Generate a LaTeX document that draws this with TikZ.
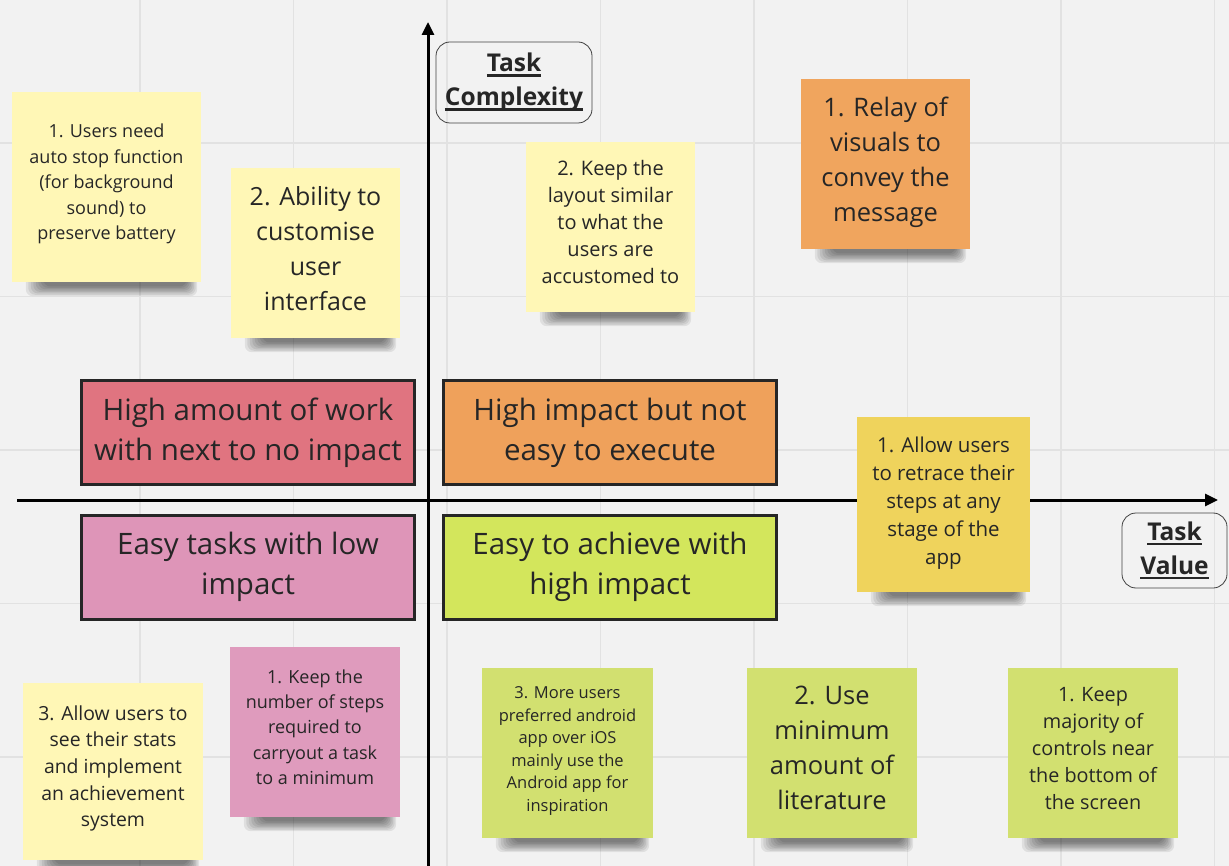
\documentclass[tikz,border=0pt]{standalone}
\usepackage{fontspec}
\setmainfont{Open Sans}
\newcommand\myul[1]{\setbox0\hbox{#1}\rlap{\rule[-5pt]{\wd0}{2.6pt}}\box0}
\usetikzlibrary{arrows.meta}
\pgfdeclarelayer{gridlayer}
\pgfdeclarelayer{shadowlayer}
\pgfsetlayers{gridlayer,shadowlayer,main}
\definecolor{bg}{HTML}{F2F2F2}
\definecolor{gridc}{HTML}{E2E2E2}
\definecolor{txt}{HTML}{262626}
\definecolor{ylw}{HTML}{FFF7B6}
\definecolor{gold}{HTML}{EFD35C}
\definecolor{orng}{HTML}{F0A55E}
\definecolor{pnk}{HTML}{DF9BBD}
\definecolor{grn}{HTML}{D2E070}
\definecolor{qTL}{HTML}{E07480}
\definecolor{qTR}{HTML}{EFA15B}
\definecolor{qBL}{HTML}{DE95B8}
\definecolor{qBR}{HTML}{D3E65C}
\tikzset{
  sticky/.style={draw=none, inner sep=0pt},
  notetext/.style={inner sep=0pt, align=center, text=txt},
  shadowpiece/.style={fill=black, opacity=0.075, rounded corners=7pt},
  quad/.style={draw=black!85, line width=3pt, inner sep=0pt, align=center,
    minimum width=333pt, minimum height=104pt, text=txt,
    font=\fontsize{29.5}{40}\selectfont},
  axislabel/.style={draw=black!75, line width=0.8pt, rounded corners=14pt,
    inner sep=0pt, align=center, text=txt,
    font=\bfseries\fontsize{24.5}{34}\selectfont},
  axisline/.style={line width=3pt, draw=black,
    -{Triangle[length=13pt,width=12pt]}},
}
\begin{document}
\begin{tikzpicture}[x=1pt,y=-1pt]
\useasboundingbox (0,0) rectangle (1229,866);
\begin{pgfonlayer}{gridlayer}
\fill[bg] (0,0) rectangle (1229,866);
\foreach \gx in {140,293.5,447,600.5,754,907.5,1061,1214.5}
  \draw[gridc, line width=1.2pt] (\gx,0) -- (\gx,866);
\foreach \gy in {143,296.5,450,603.5,757}
  \draw[gridc, line width=1.2pt] (0,\gy) -- (1229,\gy);
\end{pgfonlayer}

% axes
\coordinate (yfrom) at (428,866);
\coordinate (yto) at (428,22);
\coordinate (xfrom) at (17,500);
\coordinate (xto) at (1218,500);
\draw[axisline] (yfrom) -- (yto);
\draw[axisline] (xfrom) -- (xto);

% quadrant boxes
\node[quad, fill=qTL] (qtl) at (248,432.5) {High amount of work\\with next to no impact};
\node[quad, fill=qTR] (qtr) at (610,432.5) {High impact but not\\easy to execute};
\node[quad, fill=qBL] (qbl) at (248,567) {Easy tasks with low\\impact};
\node[quad, fill=qBR] (qbr) at (610,567) {Easy to achieve with\\high impact};

% axis labels
\node[axislabel, minimum width=156pt, minimum height=81pt] (tc) at (514,82.5) {\myul{Task}\\\myul{Complexity}};
\node[axislabel, minimum width=105pt, minimum height=75pt] (tv) at (1174.5,550.5) {\myul{Task}\\\myul{Value}};

% sticky notes
\node[sticky, fill=ylw, minimum width=189pt, minimum height=190pt] (n1) at (106.5,187) {};
\node[notetext, font=\fontsize{18}{25.5}\selectfont] (n1t) at ([yshift=3pt]n1.center)
  {1. Users need\\auto stop function\\(for background\\sound) to\\preserve battery};

\node[sticky, fill=ylw, minimum width=169pt, minimum height=170pt] (n2) at (315.5,253) {};
\node[notetext, font=\fontsize{25}{35}\selectfont] (n2t) at ([yshift=4pt]n2.center)
  {2. Ability to\\customise\\user\\interface};

\node[sticky, fill=ylw, minimum width=169pt, minimum height=170pt] (n3) at (610.5,227) {};
\node[notetext, font=\fontsize{20}{27}\selectfont] (n3t) at ([yshift=5pt]n3.center)
  {2. Keep the\\layout similar\\to what the\\users are\\accustomed to};

\node[sticky, fill=orng, minimum width=169pt, minimum height=170pt] (n4) at (885.5,164) {};
\node[notetext, font=\fontsize{25.5}{35}\selectfont] (n4t) at ([yshift=2pt]n4.center)
  {1. Relay of\\visuals to\\convey the\\message};

\node[sticky, fill=gold, minimum width=173pt, minimum height=175pt] (n5) at (943.5,504.5) {};
\node[notetext, font=\fontsize{20.5}{28}\selectfont] (n5t) at ([yshift=1pt]n5.center)
  {1. Allow users\\to retrace their\\steps at any\\stage of the\\app};

\node[sticky, fill=ylw, minimum width=180pt, minimum height=177pt] (n6) at (113,771.5) {};
\node[notetext, font=\fontsize{19.4}{26.7}\selectfont] (n6t) at ([yshift=3pt]n6.center)
  {3. Allow users to\\see their stats\\and implement\\an achievement\\system};

\node[sticky, fill=pnk, minimum width=170pt, minimum height=170pt] (n7) at (315,732) {};
\node[notetext, font=\fontsize{18}{25.3}\selectfont] (n7t) at ([yshift=5pt]n7.center)
  {1. Keep the\\number of steps\\required to\\carryout a task\\to a minimum};

\node[sticky, fill=grn, minimum width=171pt, minimum height=170pt] (n8) at (567.5,753) {};
\node[notetext, font=\fontsize{16.5}{22.6}\selectfont] (n8t) at ([yshift=2pt]n8.center)
  {3. More users\\preferred android\\app over iOS\\mainly use the\\Android app for\\inspiration};

\node[sticky, fill=grn, minimum width=170pt, minimum height=170pt] (n9) at (832,753) {};
\node[notetext, font=\fontsize{25.5}{35}\selectfont] (n9t) at ([yshift=5pt]n9.center)
  {2. Use\\minimum\\amount of\\literature};

\node[sticky, fill=grn, minimum width=170pt, minimum height=170pt] (n10) at (1093,753) {};
\node[notetext, font=\fontsize{19.8}{27}\selectfont] (n10t) at ([yshift=4pt]n10.center)
  {1. Keep\\majority of\\controls near\\the bottom of\\the screen};

% soft shadows under the notes
\begin{pgfonlayer}{shadowlayer}
\foreach \n in {n1,n2,n3,n4,n5,n6,n7,n8,n9,n10}
  \foreach \i in {0,...,7}
    \fill[shadowpiece] ([xshift={14pt+2.5pt*\i}, yshift=6pt]\n.south west)
      rectangle ([xshift={-4pt-1.5pt*\i}, yshift={-14pt+1.4pt*\i}]\n.south east);
\end{pgfonlayer}
\end{tikzpicture}
\end{document}
